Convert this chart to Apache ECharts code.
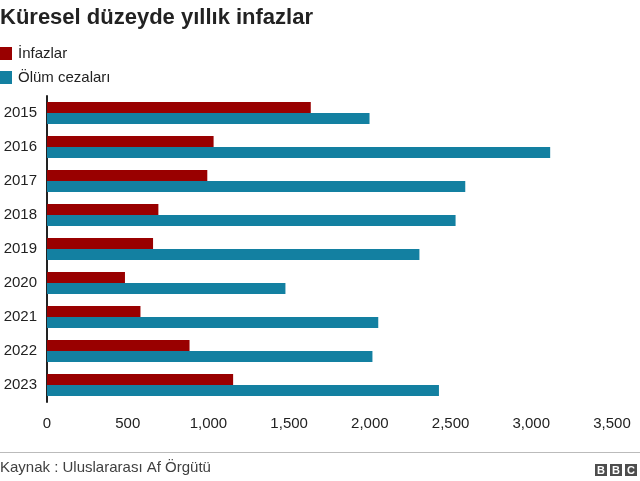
<!DOCTYPE html>
<html>
<head>
<meta charset="utf-8">
<script src="https://cdn.jsdelivr.net/npm/echarts@6/dist/echarts.min.js"></script>
<style>
  html, body { margin: 0; padding: 0; background: #fff; }
  #main { width: 640px; height: 481px; }
</style>
</head>
<body>
<div id="main"></div>
<script>
var years = ["2015", "2016", "2017", "2018", "2019", "2020", "2021", "2022", "2023"];
var infazlar = [1634, 1032, 993, 690, 657, 483, 579, 883, 1153];
var olumCezalari = [1998, 3117, 2591, 2531, 2307, 1477, 2052, 2016, 2428];
var xTicks = [0, 500, 1000, 1500, 2000, 2500, 3000, 3500];

var chartDom = document.getElementById("main");
var myChart = echarts.init(chartDom);
var font = "Liberation Sans, Arial, Helvetica, sans-serif";

var option = {
  animation: false,
  textStyle: { fontFamily: font },
  title: {
    text: "Küresel düzeyde yıllık infazlar",
    left: 0,
    top: 7,
    padding: 0,
    textStyle: { fontSize: 22, fontWeight: "bold", color: "#222", fontFamily: font }
  },
  legend: {
    orient: "vertical",
    left: 0,
    top: 46,
    padding: 0,
    itemWidth: 12,
    itemHeight: 13,
    itemGap: 9,
    icon: "rect",
    textStyle: { fontSize: 15, color: "#222", fontFamily: font, padding: [0, 0, 0, 1] },
    data: ["İnfazlar", "Ölüm cezaları"]
  },
  grid: { left: 47, right: 28, top: 96, height: 306 },
  xAxis: {
    type: "value",
    min: xTicks[0],
    max: xTicks[xTicks.length - 1],
    interval: 500,
    axisLine: { show: false },
    axisTick: { show: false },
    splitLine: { show: false },
    axisLabel: {
      fontSize: 15,
      color: "#222",
      margin: 14,
      formatter: function (v) { return v.toLocaleString("en-US"); }
    }
  },
  yAxis: {
    type: "category",
    inverse: true,
    data: years,
    axisLine: { show: true, lineStyle: { color: "#222", width: 2 } },
    axisTick: { show: false },
    axisLabel: { fontSize: 15, color: "#222", margin: 10 }
  },
  series: [
    {
      name: "İnfazlar",
      type: "bar",
      barWidth: 11,
      barGap: "0%",
      itemStyle: { color: "#990000" },
      data: infazlar
    },
    {
      name: "Ölüm cezaları",
      type: "bar",
      barWidth: 11,
      barGap: "0%",
      itemStyle: { color: "#1380a1" },
      data: olumCezalari
    }
  ],
  graphic: [
    { type: "line", shape: { x1: 0, y1: 452.5, x2: 640, y2: 452.5 }, style: { stroke: "#bbb", lineWidth: 1 } },
    { type: "text", left: 0, top: 460, style: { text: "Kaynak : Uluslararası Af Örgütü", fontSize: 15, fill: "#404040", fontFamily: font } },
    { type: "rect", shape: { x: 595, y: 464, width: 12, height: 12 }, style: { fill: "#4d4d4d" } },
    { type: "rect", shape: { x: 610, y: 464, width: 12, height: 12 }, style: { fill: "#4d4d4d" } },
    { type: "rect", shape: { x: 625, y: 464, width: 12, height: 12 }, style: { fill: "#4d4d4d" } },
    { type: "text", x: 601, y: 470.5, style: { text: "B", fontSize: 11, fontWeight: "bold", fill: "#fff", align: "center", verticalAlign: "middle", fontFamily: font } },
    { type: "text", x: 616, y: 470.5, style: { text: "B", fontSize: 11, fontWeight: "bold", fill: "#fff", align: "center", verticalAlign: "middle", fontFamily: font } },
    { type: "text", x: 631, y: 470.5, style: { text: "C", fontSize: 11, fontWeight: "bold", fill: "#fff", align: "center", verticalAlign: "middle", fontFamily: font } }
  ]
};

option && myChart.setOption(option);
</script>
</body>
</html>
